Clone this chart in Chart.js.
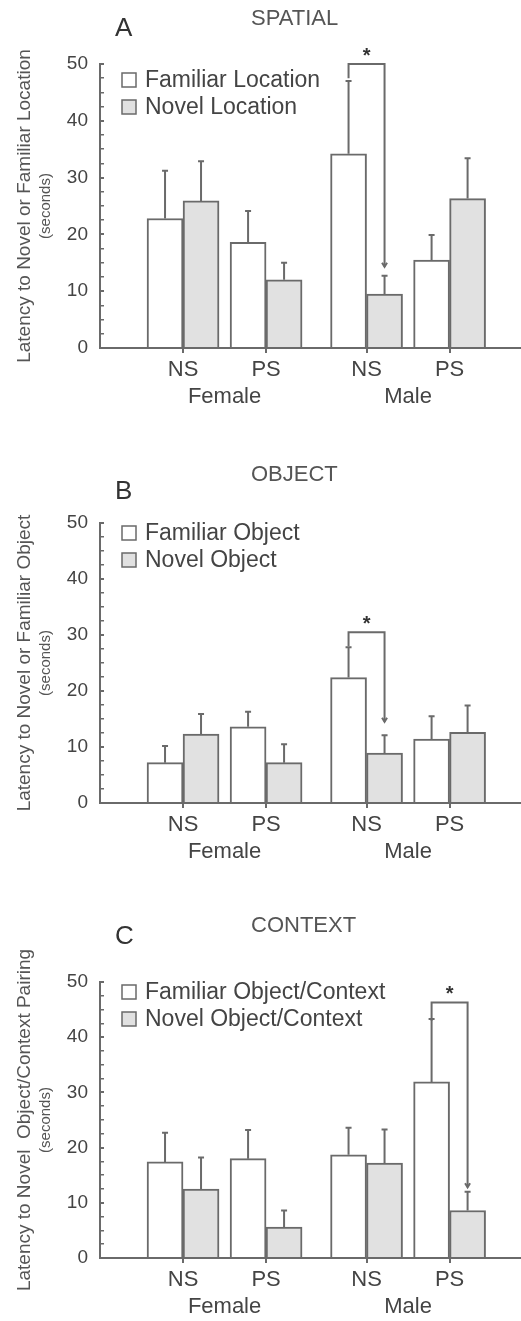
<!DOCTYPE html>
<html lang="en">
<head>
  <meta charset="UTF-8">
  <title>Latency to Novel or Familiar</title>
  <script src="https://cdn.jsdelivr.net/npm/chart.js"></script>
  <style>
    body {
      margin: 0;
      padding: 0;
      background: #fff;
    }
    canvas {
      display: block;
    }
  </style>
</head>
<body>
  <canvas id="spatialChart" width="521" height="440"></canvas>
  <canvas id="objectChart" width="521" height="440"></canvas>
  <canvas id="contextChart" width="521" height="441"></canvas>

  <script>
    // Categories
    const conditions = ['NS', 'PS', 'NS', 'PS'];
    const sexes = ['Female', 'Male'];

    // A - spatial
    const spatialFamiliar = [22.8, 18.6, 34.2, 15.5];
    const spatialFamiliarErr = [8.4, 5.5, 12.8, 4.4];
    const spatialNovel = [25.9, 12.0, 9.5, 26.3];
    const spatialNovelErr = [7.0, 3.0, 3.2, 7.1];
    // significance: [category, bracket top, left end, right end]
    const spatialSig = [2, 50, 47.5, 14.3];

    // B - object
    const objectFamiliar = [7.2, 13.6, 22.4, 11.4];
    const objectFamiliarErr = [3.0, 2.7, 5.4, 4.1];
    const objectNovel = [12.3, 7.2, 8.9, 12.6];
    const objectNovelErr = [3.6, 3.3, 3.2, 4.8];
    const objectSig = [2, 30.5, 28, 14.5];

    // C - context
    const contextFamiliar = [17.4, 18.0, 18.7, 31.9];
    const contextFamiliarErr = [5.3, 5.2, 4.9, 11.4];
    const contextNovel = [12.5, 5.6, 17.2, 8.6];
    const contextNovelErr = [5.7, 3.0, 6.1, 3.4];
    const contextSig = [3, 46.3, 43, 12.8];

    const FONT = "'Liberation Sans', Arial, sans-serif";
    const LINE = '#6a6a6a';
    const TEXT = '#444';

    // extra space between the Female and Male groups
    const groupGap = 0.21;
    const xPos = i => i + (i >= 2 ? groupGap : 0);

    // error bars on top of each bar
    const errorBars = {
      id: 'errorBars',
      afterDatasetsDraw(chart) {
        const ctx = chart.ctx;
        const y = chart.scales.y;
        ctx.save();
        ctx.strokeStyle = LINE;
        ctx.lineWidth = 2;
        chart.data.datasets.forEach((ds, di) => {
          const meta = chart.getDatasetMeta(di);
          meta.data.forEach((bar, i) => {
            const top = y.getPixelForValue(ds.data[i].y + ds.errors[i]);
            ctx.beginPath();
            ctx.moveTo(bar.x, bar.y);
            ctx.lineTo(bar.x, top);
            ctx.moveTo(bar.x - 3, top);
            ctx.lineTo(bar.x + 3, top);
            ctx.stroke();
          });
        });
        ctx.restore();
      }
    };

    // titles, legend, bracket and star
    const decor = {
      id: 'decor',
      afterDraw(chart, args, opts) {
        const ctx = chart.ctx;
        const y = chart.scales.y;
        const area = chart.chartArea;
        ctx.save();

        // panel letter and title
        ctx.fillStyle = '#333';
        ctx.textBaseline = 'middle';
        ctx.textAlign = 'left';
        ctx.font = '26px ' + FONT;
        ctx.fillText(opts.letter, 115, opts.letterY);
        ctx.fillStyle = '#555';
        ctx.font = '22px ' + FONT;
        ctx.fillText(opts.title, 251, opts.titleY);

        // second line of the y title
        ctx.save();
        ctx.translate(46, (area.top + area.bottom) / 2);
        ctx.rotate(-Math.PI / 2);
        ctx.textAlign = 'center';
        ctx.font = '15px ' + FONT;
        ctx.fillStyle = '#555';
        ctx.fillText('(seconds)', 0, 0);
        ctx.restore();

        // legend
        ctx.font = '23px ' + FONT;
        chart.data.datasets.forEach((ds, i) => {
          const ly = opts.legendY + i * 27;
          ctx.fillStyle = ds.backgroundColor;
          ctx.fillRect(122, ly - 7, 14, 14);
          ctx.strokeStyle = LINE;
          ctx.lineWidth = 1.5;
          ctx.strokeRect(122, ly - 7, 14, 14);
          ctx.fillStyle = TEXT;
          ctx.fillText(ds.label, 145, ly + 1);
        });

        // significance bracket
        const [cat, top, leftEnd, rightEnd] = opts.sig;
        const lx = chart.getDatasetMeta(0).data[cat].x;
        const rx = chart.getDatasetMeta(1).data[cat].x;
        const ty = y.getPixelForValue(top);
        const ry = y.getPixelForValue(rightEnd);
        ctx.strokeStyle = LINE;
        ctx.lineWidth = 2;
        ctx.beginPath();
        ctx.moveTo(lx, y.getPixelForValue(leftEnd));
        ctx.lineTo(lx, ty);
        ctx.lineTo(rx, ty);
        ctx.lineTo(rx, ry);
        ctx.stroke();
        ctx.beginPath();
        ctx.moveTo(rx - 2.5, ry - 4);
        ctx.lineTo(rx, ry);
        ctx.lineTo(rx + 2.5, ry - 4);
        ctx.stroke();
        ctx.fillStyle = '#333';
        ctx.textAlign = 'center';
        ctx.font = 'bold 20px ' + FONT;
        ctx.fillText('*', (lx + rx) / 2, ty - 8);

        ctx.restore();
      }
    };

    function makeChart(id, cfg) {
      const ctx = document.getElementById(id).getContext('2d');
      return new Chart(ctx, {
        type: 'bar',
        data: {
          datasets: [{
            label: cfg.labels[0],
            data: cfg.familiar.map((v, i) => ({ x: xPos(i), y: v })),
            errors: cfg.familiarErr,
            backgroundColor: '#ffffff',
            borderColor: LINE,
            borderWidth: 2,
            barThickness: 36
          }, {
            label: cfg.labels[1],
            data: cfg.novel.map((v, i) => ({ x: xPos(i), y: v })),
            errors: cfg.novelErr,
            backgroundColor: '#e1e1e1',
            borderColor: LINE,
            borderWidth: 2,
            barThickness: 36
          }]
        },
        options: {
          responsive: false,
          animation: false,
          layout: { padding: { top: cfg.top, right: 0, left: 0, bottom: 0 } },
          scales: {
            x: {
              type: 'linear',
              min: -1,
              max: 4.07,
              offset: false,
              afterBuildTicks: s => { s.ticks = conditions.map((c, i) => ({ value: xPos(i) })); },
              afterFit: s => { s.height = 34; },
              ticks: {
                autoSkip: false,
                maxRotation: 0,
                padding: 4,
                color: TEXT,
                font: { family: FONT, size: 22 },
                callback: (v, i) => conditions[i]
              },
              grid: { drawOnChartArea: false, offset: false, tickLength: 5, color: LINE, lineWidth: 2 },
              border: { color: LINE, width: 2 }
            },
            sex: {
              type: 'linear',
              position: 'bottom',
              weight: 1,
              min: -1,
              max: 4.07,
              offset: false,
              afterBuildTicks: s => {
                s.ticks = [{ value: (xPos(0) + xPos(1)) / 2 }, { value: (xPos(2) + xPos(3)) / 2 }];
              },
              afterFit: s => { s.height = cfg.sexHeight; },
              ticks: {
                autoSkip: false,
                maxRotation: 0,
                padding: 2,
                color: TEXT,
                font: { family: FONT, size: 22 },
                callback: (v, i) => sexes[i]
              },
              grid: { display: false, drawTicks: false, offset: false },
              border: { display: false }
            },
            y: {
              min: 0,
              max: 50,
              afterBuildTicks: s => {
                const t = [];
                for (let v = 0; v <= 50; v += 2.5) t.push({ value: v });
                s.ticks = t;
              },
              afterFit: s => { s.width = 100; },
              ticks: {
                autoSkip: false,
                padding: 16,
                color: TEXT,
                font: { family: FONT, size: 19 },
                callback: v => (v % 10 === 0 ? v : '')
              },
              grid: {
                drawOnChartArea: false,
                tickLength: -4,
                color: LINE,
                lineWidth: c => (c.tick && c.tick.value % 10 === 0 ? 2 : 1.5)
              },
              border: { color: LINE, width: 2 },
              title: {
                display: true,
                text: cfg.yTitle,
                color: '#555',
                font: { family: FONT, size: 19 },
                padding: { top: 13, bottom: 0 }
              }
            }
          },
          plugins: {
            legend: { display: false },
            tooltip: { enabled: false },
            decor: cfg.decor
          }
        },
        plugins: [errorBars, decor]
      });
    }

    makeChart('spatialChart', {
      labels: ['Familiar Location', 'Novel Location'],
      familiar: spatialFamiliar, familiarErr: spatialFamiliarErr,
      novel: spatialNovel, novelErr: spatialNovelErr,
      yTitle: 'Latency to Novel or Familiar Location',
      top: 64, sexHeight: 58,
      decor: { letter: 'A', letterY: 29, title: 'SPATIAL', titleY: 19, legendY: 80, sig: spatialSig }
    });

    makeChart('objectChart', {
      labels: ['Familiar Object', 'Novel Object'],
      familiar: objectFamiliar, familiarErr: objectFamiliarErr,
      novel: objectNovel, novelErr: objectNovelErr,
      yTitle: 'Latency to Novel or Familiar Object',
      top: 83, sexHeight: 43,
      decor: { letter: 'B', letterY: 52, title: 'OBJECT', titleY: 35, legendY: 93, sig: objectSig }
    });

    makeChart('contextChart', {
      labels: ['Familiar Object/Context', 'Novel Object/Context'],
      familiar: contextFamiliar, familiarErr: contextFamiliarErr,
      novel: contextNovel, novelErr: contextNovelErr,
      yTitle: 'Latency to Novel  Object/Context Pairing',
      top: 102, sexHeight: 29,
      decor: { letter: 'C', letterY: 57, title: 'CONTEXT', titleY: 46, legendY: 112, sig: contextSig }
    });
  </script>
</body>
</html>
